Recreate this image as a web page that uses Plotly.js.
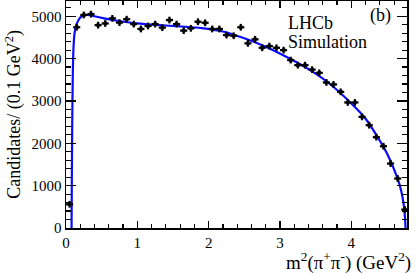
<!DOCTYPE html>
<html>
<head>
<meta charset="utf-8">
<script src="https://cdn.plot.ly/plotly-3.0.1.min.js"></script>
<style>html,body{margin:0;padding:0;background:#fff;}#chart{width:418px;height:274px;}</style>
</head>
<body>
<div id="chart"></div>
<script>
// Data: bin centres (GeV^2) and candidate counts per 0.1 GeV^2
var binCenters = [0.05,0.15,0.25,0.35,0.45,0.55,0.65,0.75,0.85,0.95,
  1.05,1.15,1.25,1.35,1.45,1.55,1.65,1.75,1.85,1.95,
  2.05,2.15,2.25,2.35,2.45,2.55,2.65,2.75,2.85,2.95,
  3.05,3.15,3.25,3.35,3.45,3.55,3.65,3.75,3.85,3.95,
  4.05,4.15,4.25,4.35,4.45,4.55,4.65,4.75];
var counts = [560,4740,5030,5050,4790,4830,4950,4850,4930,4815,
  4700,4770,4815,4730,4910,4815,4660,4715,4870,4845,
  4700,4700,4555,4540,4740,4360,4455,4255,4295,4255,
  4200,3965,3845,3845,3740,3664,3437,3390,3215,2965,
  2965,2624,2428,2145,1931,1522,1168,435];
var binHalfWidth = [0.05];
var countError = [80];

// Fit curve
var fitX = [0.078,0.082,0.088,0.095,0.105,0.12,0.15,0.2,0.25,0.3,0.4,0.5,0.7,1.0,1.3,1.6,1.9,2.2,2.5,2.8,3.1,3.4,3.7,4.0,4.2,4.4,4.5,4.6,4.68,4.72,4.745,4.76];
var fitY = [0,1200,2600,3600,4250,4600,4820,4970,5020,5030,5000,4960,4900,4830,4790,4760,4720,4640,4480,4280,4030,3750,3400,2940,2580,2060,1760,1380,1000,700,400,0];

var xTickVals = [0,1,2,3,4];
var yTickVals = [0,1000,2000,3000,4000,5000];

var serif = 'Liberation Serif, Times New Roman, serif';

var traces = [
  {
    x: fitX, y: fitY, type: 'scatter', mode: 'lines',
    line: {color: '#0a0aff', width: 2.2, shape: 'spline', smoothing: 0.6},
    hoverinfo: 'skip'
  },
  {
    x: binCenters, y: counts, type: 'scatter', mode: 'markers',
    marker: {color: '#000', size: 3.5, symbol: 'square'},
    error_x: {type: 'constant', value: binHalfWidth[0], color: '#000', thickness: 2.2, width: 0},
    error_y: {type: 'constant', value: countError[0], color: '#000', thickness: 2.2, width: 0}
  }
];

var layout = {
  width: 418, height: 274,
  margin: {l: 66, r: 11.3, t: 1, b: 46.3},
  paper_bgcolor: '#fff', plot_bgcolor: '#fff',
  showlegend: false,
  font: {family: serif, color: '#000', size: 15},
  xaxis: {
    range: [0, 4.78], tickvals: xTickVals, ticktext: xTickVals.map(String),
    ticks: 'inside', ticklen: 7, tickwidth: 1.3, tickcolor: '#000',
    showline: true, linecolor: '#000', linewidth: 1.5, mirror: 'ticks',
    showgrid: false, zeroline: false,
    tickfont: {family: serif, size: 15, color: '#000'},
    minor: {dtick: 0.2, ticks: 'inside', ticklen: 4, tickwidth: 1.2, tickcolor: '#000', showgrid: false}
  },
  yaxis: {
    range: [0, 5360], tickvals: yTickVals, ticktext: yTickVals.map(String),
    ticks: 'inside', ticklen: 10, tickwidth: 1.3, tickcolor: '#000',
    showline: true, linecolor: '#000', linewidth: 1.5, mirror: 'ticks',
    showgrid: false, zeroline: false,
    tickfont: {family: serif, size: 15, color: '#000'},
    minor: {dtick: 200, ticks: 'inside', ticklen: 5, tickwidth: 1.2, tickcolor: '#000', showgrid: false}
  },
  annotations: [
    {text: 'Candidates/ (0.1 GeV<sup>2</sup>)', xref: 'paper', yref: 'paper', x: -0.155, y: 0.5,
     xanchor: 'center', yanchor: 'middle', textangle: -90, showarrow: false,
     font: {family: serif, size: 18, color: '#000'}},
    {text: 'm<sup>2</sup>(π<sup>+</sup>π<sup>-</sup>) (GeV<sup>2</sup>)', xref: 'paper', yref: 'paper', x: 1.018, y: -0.148,
     xanchor: 'right', yanchor: 'middle', showarrow: false,
     font: {family: serif, size: 19, color: '#000'}},
    {text: 'LHCb', xref: 'paper', yref: 'paper', x: 0.644, y: 0.905,
     xanchor: 'left', yanchor: 'middle', showarrow: false,
     font: {family: serif, size: 18, color: '#000'}},
    {text: 'Simulation', xref: 'paper', yref: 'paper', x: 0.644, y: 0.818,
     xanchor: 'left', yanchor: 'middle', showarrow: false,
     font: {family: serif, size: 18, color: '#000'}},
    {text: '(b)', xref: 'paper', yref: 'paper', x: 0.922, y: 0.935,
     xanchor: 'center', yanchor: 'middle', showarrow: false,
     font: {family: serif, size: 18, color: '#000'}}
  ]
};

Plotly.newPlot('chart', traces, layout, {staticPlot: true, displayModeBar: false});
</script>
</body>
</html>
